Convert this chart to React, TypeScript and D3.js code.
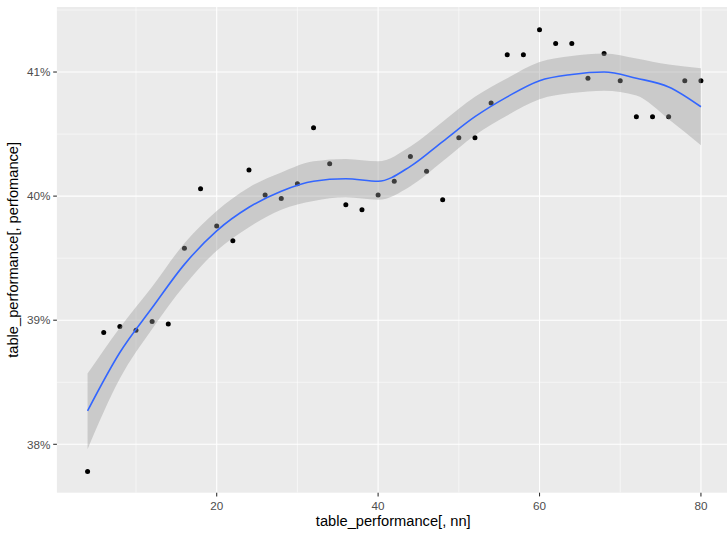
import React from "react";
import * as d3 from "d3";

const nnValues = [4, 6, 8, 10, 12, 14, 16, 18, 20, 22, 24, 26, 28, 30, 32, 34, 36, 38, 40, 42, 44, 46, 48, 50, 52, 54, 56, 58, 60, 62, 64, 66, 68, 70, 72, 74, 76, 78, 80];
const performanceValues = [37.78, 38.90, 38.95, 38.92, 38.99, 38.97, 39.58, 40.06, 39.76, 39.64, 40.21, 40.01, 39.98, 40.10, 40.55, 40.26, 39.93, 39.89, 40.01, 40.12, 40.32, 40.20, 39.97, 40.47, 40.47, 40.75, 41.14, 41.14, 41.34, 41.23, 41.23, 40.95, 41.15, 40.93, 40.64, 40.64, 40.64, 40.93, 40.93];

const smoothX = [4, 8, 12, 16, 20, 24, 28, 32, 36, 40, 44, 48, 52, 56, 60, 64, 68, 72, 76, 80];
const smoothFit = [38.27, 38.74, 39.10, 39.45, 39.72, 39.91, 40.04, 40.12, 40.14, 40.12, 40.24, 40.44, 40.64, 40.80, 40.93, 40.98, 41.00, 40.95, 40.88, 40.72];
const smoothLow = [37.96, 38.53, 38.93, 39.28, 39.56, 39.75, 39.89, 39.96, 39.99, 39.97, 40.08, 40.28, 40.49, 40.65, 40.78, 40.83, 40.85, 40.81, 40.62, 40.41];
const smoothHigh = [38.57, 38.94, 39.27, 39.62, 39.88, 40.07, 40.19, 40.28, 40.30, 40.28, 40.40, 40.60, 40.80, 40.95, 41.08, 41.13, 41.15, 41.11, 41.06, 41.03];

const xMajor = [20, 40, 60, 80];
const xMinor = [10, 30, 50, 70];
const yMajor = [38, 39, 40, 41];
const yMinor = [38.5, 39.5, 40.5, 41.5];

const W = 727;
const H = 535;
const panel = { left: 56.9, right: 731.6, top: 7, bottom: 492.7 };

export default function App() {
  const x = d3.scaleLinear().domain([0.2, 83.8]).range([panel.left, panel.right]);
  const y = d3.scaleLinear().domain([37.61, 41.524]).range([panel.bottom, panel.top]);

  const band = smoothX.map((d, i) => ({ x: d, lo: smoothLow[i], hi: smoothHigh[i], fit: smoothFit[i] }));
  const area = d3
    .area<any>()
    .x((d) => x(d.x))
    .y0((d) => y(d.lo))
    .y1((d) => y(d.hi))
    .curve(d3.curveMonotoneX);
  const line = d3
    .line<any>()
    .x((d) => x(d.x))
    .y((d) => y(d.fit))
    .curve(d3.curveMonotoneX);

  const pw = panel.right - panel.left;
  const ph = panel.bottom - panel.top;
  const font = "'Liberation Sans', Arial, sans-serif";

  return (
    <svg width={W} height={H} style={{ position: "absolute", left: 0, top: 0, background: "#fff" }} fontFamily={font}>
      <defs>
        <clipPath id="pclip">
          <rect x={panel.left} y={panel.top} width={pw} height={ph} />
        </clipPath>
      </defs>
      <rect x={panel.left} y={panel.top} width={pw} height={ph} fill="#EBEBEB" />
      <g clipPath="url(#pclip)">
        {xMinor.map((v) => (
          <line key={"xm" + v} x1={x(v)} x2={x(v)} y1={panel.top} y2={panel.bottom} stroke="#fff" strokeWidth={0.55} />
        ))}
        {yMinor.map((v) => (
          <line key={"ym" + v} x1={panel.left} x2={panel.right} y1={y(v)} y2={y(v)} stroke="#fff" strokeWidth={0.55} />
        ))}
        {xMajor.map((v) => (
          <line key={"xM" + v} x1={x(v)} x2={x(v)} y1={panel.top} y2={panel.bottom} stroke="#fff" strokeWidth={1.1} />
        ))}
        {yMajor.map((v) => (
          <line key={"yM" + v} x1={panel.left} x2={panel.right} y1={y(v)} y2={y(v)} stroke="#fff" strokeWidth={1.1} />
        ))}
        {nnValues.map((v, i) => (
          <circle key={"p" + i} cx={x(v)} cy={y(performanceValues[i])} r={2.5} fill="#000" />
        ))}
        <path d={area(band) || ""} fill="#999999" fillOpacity={0.4} />
        <path d={line(band) || ""} fill="none" stroke="#3366FF" strokeWidth={1.6} />
      </g>
      {/* axes ticks */}
      {xMajor.map((v) => (
        <g key={"xt" + v}>
          <line x1={x(v)} x2={x(v)} y1={panel.bottom} y2={panel.bottom + 3.7} stroke="#333333" strokeWidth={1.1} />
          <text x={x(v)} y={panel.bottom + 17.5} textAnchor="middle" fontSize={11.7} fill="#4D4D4D">
            {v}
          </text>
        </g>
      ))}
      {yMajor.map((v) => (
        <g key={"yt" + v}>
          <line x1={panel.left - 3.7} x2={panel.left} y1={y(v)} y2={y(v)} stroke="#333333" strokeWidth={1.1} />
          <text x={panel.left - 6.5} y={y(v) + 4.2} textAnchor="end" fontSize={11.7} fill="#4D4D4D">
            {v + "%"}
          </text>
        </g>
      ))}
      <text x={(panel.left + panel.right) / 2 - 1} y={526} textAnchor="middle" fontSize={14.67} fill="#000">
        table_performance[, nn]
      </text>
      <text
        transform={`translate(18, ${(panel.top + panel.bottom) / 2}) rotate(-90)`}
        textAnchor="middle"
        fontSize={14.67}
        fill="#000"
      >
        table_performance[, perfomance]
      </text>
    </svg>
  );
}
